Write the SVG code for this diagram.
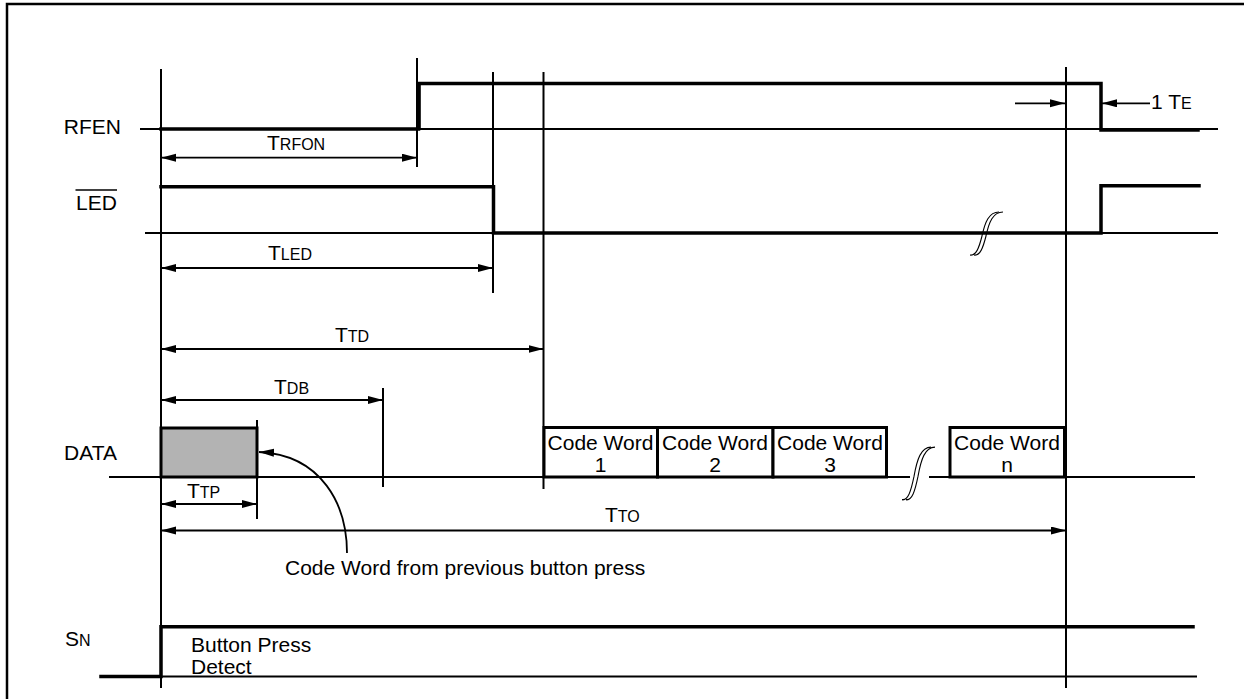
<svg xmlns="http://www.w3.org/2000/svg" width="1244" height="699" viewBox="0 0 1244 699">
<style>
.thin{stroke:#000;stroke-width:2;fill:none}
.sig{stroke:#000;stroke-width:3.5;fill:none;stroke-linejoin:miter;stroke-linecap:square}
.dim{stroke:#000;stroke-width:1.8;fill:none;marker-start:url(#ah);marker-end:url(#ah)}
.one{stroke:#000;stroke-width:1.8;fill:none;marker-end:url(#ah)}
.brk{stroke:#000;stroke-width:1.1;fill:none}
.box{stroke:#000;stroke-width:3;fill:#fff}
text{font-family:"Liberation Sans",Arial,sans-serif;font-size:21px;fill:#000}
.sm{font-size:16px}
.c{text-anchor:middle}
</style>
<defs>
<marker id="ah" markerUnits="userSpaceOnUse" markerWidth="16" markerHeight="10" refX="15" refY="4" orient="auto-start-reverse">
<path d="M0,0 L15,4 L0,8 Z" fill="#000"/>
</marker>
<path id="bk" d="M-15,21 C-9,22 -6,14 -3,2 C0,-12 4,-22 14,-22"/>
</defs>
<rect width="1244" height="699" fill="#fff"/>
<g id="frame">
<path d="M7,699 V4 H1244" stroke="#000" stroke-width="2.5" fill="none"/>
</g>
<g id="connectors">
<!-- vertical guide lines -->
<line class="thin" x1="161" y1="69" x2="161" y2="688"/>
<line class="thin" x1="417" y1="58" x2="417" y2="167"/>
<line class="thin" x1="493" y1="72" x2="493" y2="293"/>
<line class="thin" x1="543.5" y1="72" x2="543.5" y2="489"/>
<line class="thin" x1="383" y1="388" x2="383" y2="487"/>
<line class="thin" x1="257" y1="420" x2="257" y2="519"/>
<line class="thin" x1="1066" y1="67" x2="1066" y2="688"/>
<!-- baselines -->
<line class="thin" x1="140" y1="129" x2="1218" y2="129"/>
<line class="thin" x1="145" y1="233" x2="1218" y2="233"/>
<line class="thin" x1="109" y1="477" x2="910" y2="477"/>
<line class="thin" x1="929" y1="477" x2="1195" y2="477"/>
<line class="thin" x1="161" y1="676.5" x2="1197" y2="676.5"/>
<!-- dimension arrows -->
<line class="dim" x1="161" y1="157.7" x2="417" y2="157.7"/>
<line class="dim" x1="161" y1="268" x2="493" y2="268"/>
<line class="dim" x1="161" y1="349" x2="543.5" y2="349"/>
<line class="dim" x1="161" y1="400" x2="383" y2="400"/>
<line class="dim" x1="161" y1="504" x2="257" y2="504"/>
<line class="dim" x1="161" y1="530.5" x2="1066" y2="530.5"/>
<line class="one" x1="1015" y1="103.3" x2="1065" y2="103.3"/>
<line class="one" x1="1150" y1="103.3" x2="1102" y2="103.3"/>
<path class="one" stroke-width="1.3" d="M347,553 C347,505 322,455 259,452"/>
</g>
<g id="rfen">
<path class="sig" d="M161,129 H418.5 V83.5 H1101 V130 H1198"/>
<line x1="418.5" y1="85" x2="418.5" y2="130" stroke="#000" stroke-width="4.5"/>
<text x="121" y="134" text-anchor="end">RFEN</text>
<text x="267" y="150">T<tspan class="sm">RFON</tspan></text>
<text x="1151" y="109.3">1 T<tspan class="sm">E</tspan></text>
</g>
<g id="led">
<path class="sig" d="M161,186.7 H493.5 V233 H1101 V185.7 H1199"/>
<text x="76" y="210">LED</text>
<line x1="75.5" y1="190" x2="117" y2="190" stroke="#000" stroke-width="1.6"/>
<text x="268" y="260">T<tspan class="sm">LED</tspan></text>
<g class="brk">
<use href="#bk" transform="translate(985,234)"/>
<use href="#bk" transform="translate(989,234)"/>
</g>
</g>
<g id="timing">
<text x="335" y="342.3">T<tspan class="sm">TD</tspan></text>
<text x="274" y="394">T<tspan class="sm">DB</tspan></text>
<text x="187" y="498.3">T<tspan class="sm">TP</tspan></text>
<text x="605" y="521.7">T<tspan class="sm">TO</tspan></text>
</g>
<g id="data">
<text x="117" y="460" text-anchor="end">DATA</text>
<rect x="161" y="428" width="96" height="49" fill="#b3b3b3" stroke="#000" stroke-width="3"/>
<text x="285" y="575">Code Word from previous button press</text>
<g class="brk">
<use href="#bk" transform="translate(917,474) scale(1,1.22)"/>
<use href="#bk" transform="translate(921,474) scale(1,1.22)"/>
</g>
</g>
<g id="cw1">
<rect class="box" x="544" y="427.5" width="113.5" height="49.5"/>
<text class="c" x="600.5" y="450">Code Word</text>
<text class="c" x="600.5" y="471.7">1</text>
</g>
<g id="cw2">
<rect class="box" x="657.5" y="427.5" width="115.5" height="49.5"/>
<text class="c" x="715" y="450">Code Word</text>
<text class="c" x="715" y="471.7">2</text>
</g>
<g id="cw3">
<rect class="box" x="773" y="427.5" width="113.5" height="49.5"/>
<text class="c" x="830" y="450">Code Word</text>
<text class="c" x="830" y="471.7">3</text>
</g>
<g id="cwn">
<rect class="box" x="950" y="427.5" width="114.5" height="49.5"/>
<text class="c" x="1007" y="450">Code Word</text>
<text class="c" x="1007" y="471.7">n</text>
</g>
<g id="sn">
<path class="sig" d="M101,676.5 H161 V626.7 H1193"/>
<text x="65" y="645.7">S<tspan class="sm">N</tspan></text>
<text x="191" y="652.3">Button Press</text>
<text x="191" y="674">Detect</text>
</g>
</svg>
